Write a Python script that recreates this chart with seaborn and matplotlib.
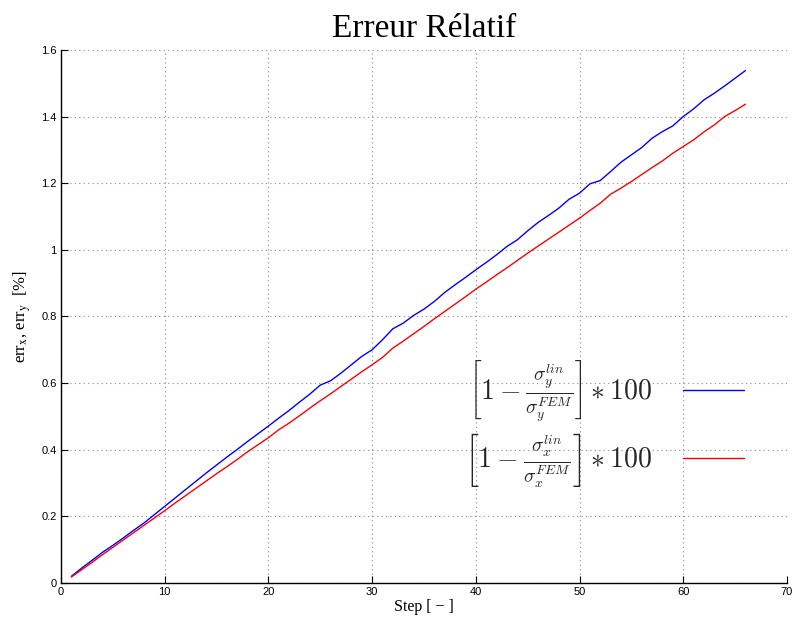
import numpy as np
import pandas as pd
import seaborn as sns
import matplotlib.pyplot as plt

# values
steps = list(range(1, 67))
err_y = [0.020, 0.045, 0.068, 0.092, 0.113, 0.135, 0.158, 0.180, 0.205, 0.230,
         0.255, 0.280, 0.305, 0.330, 0.354, 0.378, 0.401, 0.425, 0.448, 0.471,
         0.495, 0.518, 0.543, 0.567, 0.594, 0.607, 0.630, 0.655, 0.680, 0.700,
         0.730, 0.763, 0.780, 0.803, 0.822, 0.845, 0.872, 0.895, 0.917, 0.940,
         0.962, 0.985, 1.010, 1.030, 1.057, 1.082, 1.103, 1.125, 1.152, 1.170,
         1.198, 1.208, 1.235, 1.263, 1.285, 1.307, 1.335, 1.355, 1.372, 1.400,
         1.423, 1.450, 1.470, 1.492, 1.515, 1.538]
err_x = [0.018, 0.040, 0.062, 0.085, 0.107, 0.129, 0.151, 0.173, 0.195, 0.217,
         0.240, 0.262, 0.284, 0.306, 0.328, 0.349, 0.371, 0.394, 0.415, 0.436,
         0.460, 0.480, 0.502, 0.525, 0.547, 0.568, 0.590, 0.612, 0.634, 0.655,
         0.677, 0.705, 0.726, 0.748, 0.770, 0.793, 0.815, 0.837, 0.859, 0.882,
         0.903, 0.925, 0.946, 0.968, 0.990, 1.011, 1.032, 1.053, 1.074, 1.095,
         1.118, 1.140, 1.167, 1.185, 1.205, 1.226, 1.247, 1.267, 1.290, 1.310,
         1.330, 1.354, 1.375, 1.400, 1.418, 1.437]

label_y = r'$\left[1-\frac{\sigma_y^{lin}}{\sigma_y^{FEM}}\right]*100$'
label_x = r'$\left[1-\frac{\sigma_x^{lin}}{\sigma_x^{FEM}}\right]*100$'

data = pd.DataFrame({'Step': steps, 'err_y': err_y, 'err_x': err_x})

sns.set_style('ticks')
plt.rcParams['font.family'] = ['Liberation Sans', 'DejaVu Sans']
plt.rcParams['mathtext.fontset'] = 'cm'

fig = plt.figure(figsize=(7.96, 6.17), dpi=100)
ax = fig.add_axes([0.0766, 0.0551, 0.912, 0.864])

sns.lineplot(data=data, x='Step', y='err_y', color='blue', lw=1.0, label=label_y, ax=ax)
sns.lineplot(data=data, x='Step', y='err_x', color='red', lw=1.0, label=label_x, ax=ax)

ax.set_xlim(0, 70)
ax.set_ylim(0, 1.6)
ax.set_xticks(range(0, 71, 10))
ax.set_yticks([0, 0.2, 0.4, 0.6, 0.8, 1, 1.2, 1.4, 1.6])
ax.set_yticklabels(['0', '0.2', '0.4', '0.6', '0.8', '1', '1.2', '1.4', '1.6'])
ax.tick_params(direction='in', length=5, width=0.8, labelsize=8, colors='black', pad=3)
ax.grid(True, linestyle=(0, (1, 3)), color='#888888', linewidth=0.8)
for side in ['top', 'right']:
    ax.spines[side].set_visible(False)
for side in ['left', 'bottom']:
    ax.spines[side].set_linewidth(1.0)
    ax.spines[side].set_color('black')

ax.set_title('Erreur Rélatif', family='Liberation Serif', fontsize=24, pad=9, color='black')
ax.set_xlabel('Step [ \u2212 ]', family='Liberation Serif', fontsize=11.5,
              labelpad=1, color='black')
ax.set_ylabel(r'err$_\mathrm{x}$, err$_\mathrm{y}$  [%]', family='Liberation Serif',
              fontsize=12, labelpad=6, color='black', math_fontfamily='stix')

leg = ax.legend(loc='center right', bbox_to_anchor=(0.966, 0.312),
                bbox_transform=fig.transFigure, frameon=False,
                markerfirst=False, fontsize=20, handlelength=2.2,
                handletextpad=1.1, labelspacing=0.25)

fig.savefig('out.png', dpi=100)
